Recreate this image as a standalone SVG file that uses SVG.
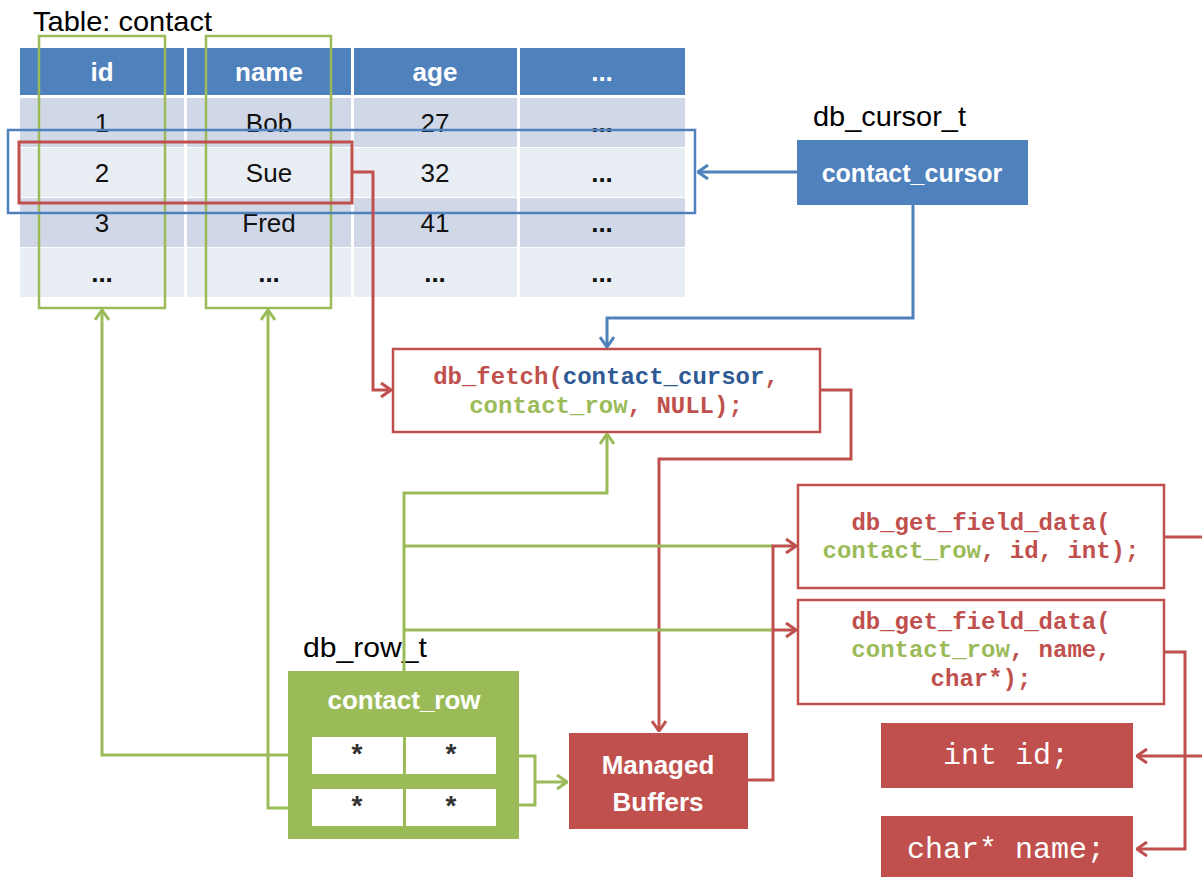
<svg xmlns="http://www.w3.org/2000/svg" width="1202" height="877" viewBox="0 0 1202 877">
<style>
.sans{font-family:"Liberation Sans",Arial,sans-serif}
.mono{font-family:"Liberation Mono","Courier New",monospace;font-weight:bold;font-size:24px}
.hdr{fill:#ffffff;font-weight:bold;font-size:26px;text-anchor:middle}
.cell{fill:#111111;font-size:26px;text-anchor:middle}
.dots{font-weight:bold}
.lbl{fill:#000000;font-size:28px}
.r{fill:#C0504D}.g{fill:#9BBB59}.b{fill:#2E5A93}
.cg{fill:none;stroke:#9BBB59;stroke-width:3}
.cr{fill:none;stroke:#C0504D;stroke-width:3}
.cb{fill:none;stroke:#4F81BD;stroke-width:3}
.star{fill:#333333;font-size:28px;font-weight:bold;text-anchor:middle}
</style>
<defs>
<marker id="ag" markerUnits="userSpaceOnUse" viewBox="0 0 12 16" refX="11" refY="8" markerWidth="12" markerHeight="16" orient="auto"><path d="M1,1 L11,8 L1,15" fill="none" stroke="#9BBB59" stroke-width="3"/></marker>
<marker id="ar" markerUnits="userSpaceOnUse" viewBox="0 0 12 16" refX="11" refY="8" markerWidth="12" markerHeight="16" orient="auto"><path d="M1,1 L11,8 L1,15" fill="none" stroke="#C0504D" stroke-width="3"/></marker>
<marker id="ab" markerUnits="userSpaceOnUse" viewBox="0 0 12 16" refX="11" refY="8" markerWidth="12" markerHeight="16" orient="auto"><path d="M1,1 L11,8 L1,15" fill="none" stroke="#4F81BD" stroke-width="3"/></marker>
</defs>
<rect width="1202" height="877" fill="#ffffff"/>

<g id="table">
<text class="sans lbl" x="33" y="31" textLength="179" lengthAdjust="spacingAndGlyphs">Table: contact</text>
<g fill="#4F81BD">
<rect x="20" y="48" width="164" height="47"/><rect x="187" y="48" width="164" height="47"/><rect x="354" y="48" width="163" height="47"/><rect x="520" y="48" width="165" height="47"/>
</g>
<g fill="#D0D8E8">
<rect x="20" y="98" width="164" height="49"/><rect x="187" y="98" width="164" height="49"/><rect x="354" y="98" width="163" height="49"/><rect x="520" y="98" width="165" height="49"/>
<rect x="20" y="198" width="164" height="49"/><rect x="187" y="198" width="164" height="49"/><rect x="354" y="198" width="163" height="49"/><rect x="520" y="198" width="165" height="49"/>
</g>
<g fill="#E9EDF4">
<rect x="20" y="148" width="164" height="49"/><rect x="187" y="148" width="164" height="49"/><rect x="354" y="148" width="163" height="49"/><rect x="520" y="148" width="165" height="49"/>
<rect x="20" y="248" width="164" height="49"/><rect x="187" y="248" width="164" height="49"/><rect x="354" y="248" width="163" height="49"/><rect x="520" y="248" width="165" height="49"/>
</g>
<text class="sans hdr" x="102" y="81">id</text>
<text class="sans hdr" x="269" y="81">name</text>
<text class="sans hdr" x="435" y="81">age</text>
<text class="sans hdr" x="602" y="81">...</text>
<text class="sans cell" x="102" y="132">1</text><text class="sans cell" x="269" y="132">Bob</text><text class="sans cell" x="435" y="132">27</text><text class="sans cell dots" x="602" y="132">...</text>
<text class="sans cell" x="102" y="182">2</text><text class="sans cell" x="269" y="182">Sue</text><text class="sans cell" x="435" y="182">32</text><text class="sans cell dots" x="602" y="182">...</text>
<text class="sans cell" x="102" y="232">3</text><text class="sans cell" x="269" y="232">Fred</text><text class="sans cell" x="435" y="232">41</text><text class="sans cell dots" x="602" y="232">...</text>
<text class="sans cell dots" x="102" y="282">...</text><text class="sans cell dots" x="269" y="282">...</text><text class="sans cell dots" x="435" y="282">...</text><text class="sans cell dots" x="602" y="282">...</text>
<rect x="39" y="36" width="126" height="272" fill="none" stroke="#9BBB59" stroke-width="2.5"/>
<rect x="206" y="36" width="125" height="272" fill="none" stroke="#9BBB59" stroke-width="2.5"/>
<rect x="8" y="130" width="687" height="83" fill="none" stroke="#4F81BD" stroke-width="2.5"/>
<rect x="19" y="142" width="333" height="61" fill="none" stroke="#C0504D" stroke-width="3"/>
</g>

<g id="cursor">
<text class="sans lbl" x="813" y="126" textLength="153" lengthAdjust="spacingAndGlyphs">db_cursor_t</text>
<rect x="797" y="140" width="231" height="65" fill="#4F81BD"/>
<text class="sans" x="912" y="182" fill="#ffffff" font-size="25" font-weight="bold" text-anchor="middle">contact_cursor</text>
</g>

<g id="fetch">
<rect x="393" y="349" width="427" height="83" fill="#ffffff" stroke="#C0504D" stroke-width="2.5"/>
<text class="mono" x="606" y="384" text-anchor="middle"><tspan class="r">db_fetch(</tspan><tspan class="b">contact_cursor</tspan><tspan class="r">,</tspan></text>
<text class="mono" x="606" y="413" text-anchor="middle"><tspan class="g">contact_row</tspan><tspan class="r">, NULL);</tspan></text>
</g>

<g id="get_id">
<rect x="798" y="485" width="366" height="103" fill="#ffffff" stroke="#C0504D" stroke-width="2.5"/>
<text class="mono r" x="981" y="530" text-anchor="middle">db_get_field_data(</text>
<text class="mono" x="981" y="558" text-anchor="middle"><tspan class="g">contact_row</tspan><tspan class="r">, id, int);</tspan></text>
</g>

<g id="get_name">
<rect x="798" y="600" width="366" height="104" fill="#ffffff" stroke="#C0504D" stroke-width="2.5"/>
<text class="mono r" x="981" y="629" text-anchor="middle">db_get_field_data(</text>
<text class="mono" x="981" y="657" text-anchor="middle"><tspan class="g">contact_row</tspan><tspan class="r">, name,</tspan></text>
<text class="mono r" x="981" y="686" text-anchor="middle">char*);</text>
</g>

<g id="int_id">
<rect x="881" y="723" width="252" height="65" fill="#C0504D"/>
<text x="1006" y="764" fill="#ffffff" font-family="Liberation Mono,Courier New,monospace" font-size="30" text-anchor="middle">int id;</text>
</g>

<g id="char_name">
<rect x="881" y="816" width="252" height="65" fill="#C0504D"/>
<text x="1006" y="858" fill="#ffffff" font-family="Liberation Mono,Courier New,monospace" font-size="30" text-anchor="middle">char* name;</text>
</g>

<g id="buffers">
<rect x="569" y="733" width="179" height="96" fill="#C0504D"/>
<text class="sans" x="658" y="774" fill="#ffffff" font-size="26" font-weight="bold" text-anchor="middle">Managed</text>
<text class="sans" x="658" y="811" fill="#ffffff" font-size="26" font-weight="bold" text-anchor="middle">Buffers</text>
</g>

<g id="row">
<text class="sans lbl" x="303" y="657" textLength="124" lengthAdjust="spacingAndGlyphs">db_row_t</text>
<rect x="288" y="671" width="231" height="168" fill="#9BBB59"/>
<text class="sans" x="404" y="709" fill="#ffffff" font-size="26" font-weight="bold" text-anchor="middle">contact_row</text>
<rect x="312" y="737" width="91" height="37" fill="#ffffff"/>
<rect x="406" y="737" width="90" height="37" fill="#ffffff"/>
<rect x="312" y="789" width="91" height="37" fill="#ffffff"/>
<rect x="406" y="789" width="90" height="37" fill="#ffffff"/>
<text class="sans star" x="357" y="763">*</text>
<text class="sans star" x="451" y="763">*</text>
<text class="sans star" x="357" y="815">*</text>
<text class="sans star" x="451" y="815">*</text>
</g>

<g id="connectors">
<path class="cr" d="M1164,537 H1212 V756 H1137" marker-end="url(#ar)"/>
<path class="cr" d="M1164,652 H1185 V849 H1137" marker-end="url(#ar)"/>
<path class="cr" d="M820,390 H851 V459 H659 V731" marker-end="url(#ar)"/>
<path class="cg" d="M289,755 H102 V310" marker-end="url(#ag)"/>
<path class="cg" d="M289,808 H268 V310" marker-end="url(#ag)"/>
<path class="cg" d="M519,756 H535 V805 H519 M535,782 H567" marker-end="url(#ag)"/>
<path class="cg" d="M404,672 V493 H607 V434" marker-end="url(#ag)"/>
<path class="cg" d="M404,546 H773 M404,630 H773"/>
<path class="cr" d="M353,172 H373 V390 H391" marker-end="url(#ar)"/>
<path class="cr" d="M748,780 H773 V546 H796" marker-end="url(#ar)"/>
<path class="cr" d="M773,630 H796" marker-end="url(#ar)"/>
<path class="cb" d="M797,172 H698" marker-end="url(#ab)"/>
<path class="cb" d="M913,205 V318 H607 V347" marker-end="url(#ab)"/>
</g>
</svg>
